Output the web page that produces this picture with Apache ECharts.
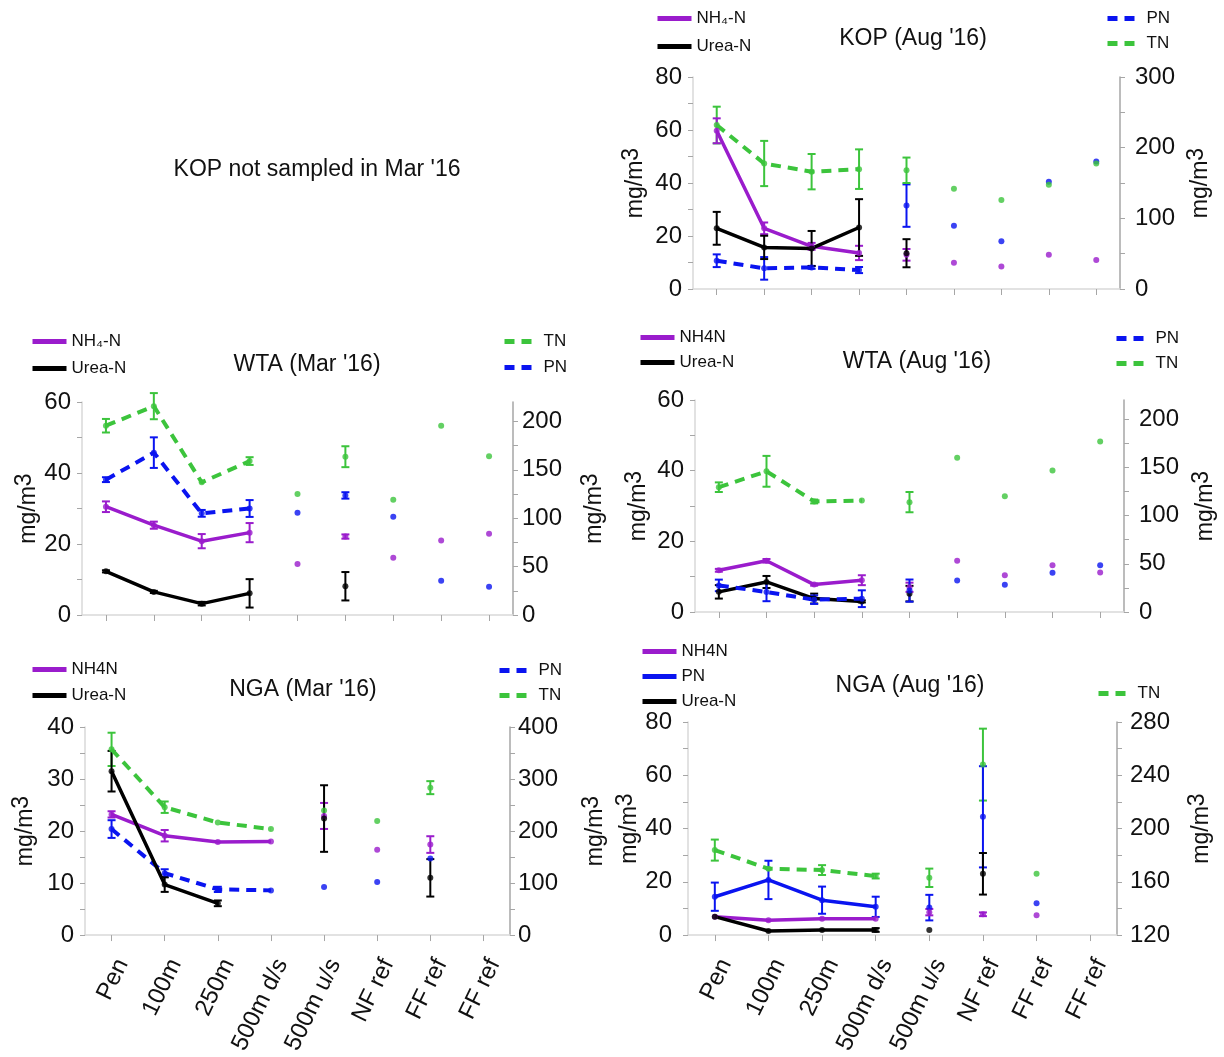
<!DOCTYPE html>
<html><head><meta charset="utf-8">
<script src="https://cdn.jsdelivr.net/npm/echarts@6/dist/echarts.min.js"></script>
<style>html,body{margin:0;padding:0;background:#fff}#c{width:1224px;height:1057px}</style>
</head><body><div id="c"></div>
<script>
const N = null;
const sites9 = ['Pen','100m','250m','500m d/s','500m u/s','NF ref','FF ref','FF ref','FF ref'];
const sites8 = ['Pen','100m','250m','500m d/s','500m u/s','NF ref','FF ref','FF ref'];

// KOP (Aug '16)
const kopNH4 = [59.7,22.9,16.1,13.6,12.9,9.9,8.5,12.9,10.9];
const kopNH4Err = [4.7,2.2,1.3,2.7,2.2,N,N,N,N];
const kopUrea = [22.9,15.7,15.3,23.2,13.5,N,N,N,N];
const kopUreaErr = [6.2,4.4,6.6,10.7,5.3,N,N,N,N];
const kopPN = [40,29.2,30.6,26.8,118,89.5,67.4,151.7,180.4];
const kopPNErr = [9,16,2,4.3,30,N,N,N,N];
const kopTN = [232,177.6,166,169.6,168,142,125.8,147.4,177.6];
const kopTNErr = [26,32,25,28,18,N,N,N,N];

// WTA (Mar '16)
const wtaMarNH4 = [30.5,25.3,20.8,23.2,14.4,22.1,16.1,21,22.9];
const wtaMarNH4Err = [1.5,1,2,2.7,N,0.6,N,N,N];
const wtaMarUrea = [12.3,6.5,3.2,6.1,N,8.1,N,N,N];
const wtaMarUreaErr = [0.3,0.3,0.5,4,N,4,N,N,N];
const wtaMarTN = [195.5,215.7,137,159,125,163.5,119,195.5,164];
const wtaMarTNErr = [7,13.5,N,4,N,10.8,N,N,N];
const wtaMarPN = [139.8,167.7,105,110,105.7,123.5,101.6,35.5,29.2];
const wtaMarPNErr = [2.5,15.8,3.5,8.7,N,3.3,N,N,N];

// WTA (Aug '16)
const wtaAugNH4 = [11.8,14.5,7.75,9,7.0,14.5,10.4,13.2,11.2];
const wtaAugNH4Err = [0.4,0.5,0.3,1.4,1.3,N,N,N,N];
const wtaAugUrea = [5.7,8.5,3.8,3.0,5.2,N,N,N,N];
const wtaAugUreaErr = [1.9,1.7,1.4,0.3,2.2,N,N,N,N];
const wtaAugPN = [27.6,20.7,12.8,13.8,22.2,32.8,28.3,40.8,48.4];
const wtaAugPNErr = [6,9.5,4.4,8.7,11.5,N,N,N,N];
const wtaAugTN = [129.5,146,114.7,115.7,114,160,120.2,146.8,176.9];
const wtaAugTNErr = [5,16,2,N,10.5,N,N,N,N];

// NGA (Mar '16)
const ngaMarNH4 = [23.2,19.1,17.9,18.0,22.9,16.4,17.4,N];
const ngaMarNH4Err = [0.6,1.1,N,N,2.5,N,1.6,N];
const ngaMarUrea = [31.5,9.7,6.1,N,22.4,N,11,N];
const ngaMarUreaErr = [3.9,1.4,0.55,N,6.4,N,3.6,N];
const ngaMarPN = [203.8,119,87.8,85.9,92.2,102.2,147.3,N];
const ngaMarPNErr = [17,7.5,5,N,N,N,N,N];
const ngaMarTN = [357,245.8,216.3,203.8,239.5,219.4,283.4,N];
const ngaMarTNErr = [32,11,N,N,N,N,12.5,N];

// NGA (Aug '16)
const ngaAugNH4 = [6.9,5.6,6.1,6.1,8.6,7.8,7.4,N];
const ngaAugNH4Err = [N,N,N,N,1.2,0.7,N,N];
const ngaAugPN = [14.4,20.7,13.1,10.6,10.3,44.4,11.9,N];
const ngaAugPNErr = [5.3,7.2,5.1,3.8,4.8,19,N,N];
const ngaAugUrea = [6.9,1.5,1.9,1.9,1.9,23,N,N];
const ngaAugUreaErr = [N,N,N,0.7,N,7.8,N,N];
const ngaAugTN = [183.8,169.8,168.8,164.3,163,248,166,N];
const ngaAugTNErr = [7.9,N,3.7,1.8,6.9,27,N,N];

const PURPLE = '#9a1ccc', BLACK = '#000000', BLUE = '#0a14f0', GREEN = '#3cc43c';
const FONT = 'Arial, "Liberation Sans", sans-serif';
const LABELS = {};
const series = [];

function addVar(p, yIdx, key, label, vals, errs, color, dashed, lineCount) {
  LABELS[key] = label;
  const xAxisIndex = p, yAxisIndex = 2 * p + yIdx;
  const errData = [];
  vals.forEach((v, i) => { if (v != null && errs[i] != null) errData.push([i, v - errs[i], v + errs[i]]); });
  series.push({
    type: 'custom', xAxisIndex, yAxisIndex, silent: true, z: 3, clip: false,
    data: errData,
    renderItem: function (params, api) {
      const x = api.value(0);
      const a = api.coord([x, api.value(2)]);
      const b = api.coord([x, api.value(1)]);
      const w = 4;
      const st = { stroke: color, lineWidth: 2 };
      return { type: 'group', children: [
        { type: 'line', shape: { x1: a[0], y1: a[1], x2: b[0], y2: b[1] }, style: st },
        { type: 'line', shape: { x1: a[0] - w, y1: a[1], x2: a[0] + w, y2: a[1] }, style: st },
        { type: 'line', shape: { x1: b[0] - w, y1: b[1], x2: b[0] + w, y2: b[1] }, style: st }
      ] };
    }
  });
  series.push({
    type: 'line', name: key, xAxisIndex, yAxisIndex, z: 4,
    data: vals.map((v, i) => (i < lineCount && v != null) ? v : '-'),
    symbol: 'none', silent: true,
    lineStyle: { color, width: dashed ? 4 : 3.5, type: dashed ? [10, 7] : 'solid' },
    itemStyle: { color }
  });
  const pts = [];
  vals.forEach((v, i) => { if (v != null) pts.push([i, v]); });
  series.push({
    type: 'scatter', xAxisIndex, yAxisIndex, z: 5, silent: true,
    data: pts, symbol: 'circle', symbolSize: 6, itemStyle: { color }
  });
}

const grids = [
  { left: 693, top: 77, width: 427, height: 212 },
  { left: 82, top: 402, width: 431, height: 213 },
  { left: 695, top: 400, width: 429, height: 212 },
  { left: 85, top: 727, width: 425, height: 213 },
  { left: 688, top: 722, width: 429, height: 214 }
];

function range(a, b, s) { const r = []; for (let v = a; v <= b + 1e-9; v += s) r.push(v); return r; }

const yAxes = [];
function addY(p, left, min, max, lab, tick, gap, margin) {
  yAxes.push({
    type: 'value', gridIndex: p, position: left ? 'left' : 'right', min, max,
    axisLine: { show: true, lineStyle: { color: left ? '#d9d9d9' : '#a6a6a6', width: 1.5 } },
    axisTick: { show: true, inside: false, length: 5, customValues: tick, lineStyle: { color: '#a6a6a6' } },
    axisLabel: { customValues: lab, fontSize: 24, color: '#111', fontFamily: FONT, margin: margin },
    splitLine: { show: false },
    name: 'mg/m{s|3}', nameLocation: 'middle', nameRotate: 90, nameGap: gap,
    nameTextStyle: { fontSize: 23, color: '#111', fontFamily: FONT,
      rich: { s: { fontSize: 23, color: '#111', fontFamily: FONT, padding: [0, 0, 8, 0] } } }
  });
}
addY(0, true, 0, 80, range(0, 80, 20), range(0, 80, 10), 42, 11);
addY(0, false, 0, 300, range(0, 300, 100), range(0, 300, 50), 65, 15);
addY(1, true, 0, 60, range(0, 60, 20), range(0, 60, 10), 37, 11);
addY(1, false, 0, 220, range(0, 200, 50), range(0, 200, 25), 66, 9);
addY(2, true, 0, 60, range(0, 60, 20), range(0, 60, 10), 41, 11);
addY(2, false, 0, 220, range(0, 200, 50), range(0, 200, 25), 66, 15);
addY(3, true, 0, 40, range(0, 40, 10), range(0, 40, 5), 44, 11);
addY(3, false, 0, 400, range(0, 400, 100), range(0, 400, 50), 70, 8);
addY(4, true, 0, 80, range(0, 80, 20), range(0, 80, 10), 42, 16);
addY(4, false, 120, 280, range(120, 280, 40), range(120, 280, 20), 69, 13);

const xAxes = [sites9, sites9, sites9, sites8, sites8].map((cats, p) => ({
  type: 'category', gridIndex: p, data: cats, boundaryGap: true,
  axisLine: { show: true, lineStyle: { color: '#d9d9d9', width: 1.5 } },
  axisTick: { show: true, alignWithLabel: true, length: 6, lineStyle: { color: '#a6a6a6' } },
  axisLabel: { show: p >= 3, interval: 0, rotate: 64, fontSize: 24, color: '#111', fontFamily: FONT,
    margin: 20, verticalAlign: 'top' }
}));

addVar(0, 1, 'kPN', 'PN', kopPN, kopPNErr, BLUE, true, 4);
addVar(0, 1, 'kTN', 'TN', kopTN, kopTNErr, GREEN, true, 4);
addVar(0, 0, 'kNH4', 'NH\u2084-N', kopNH4, kopNH4Err, PURPLE, false, 4);
addVar(0, 0, 'kUrea', 'Urea-N', kopUrea, kopUreaErr, BLACK, false, 4);
addVar(1, 1, 'wmTN', 'TN', wtaMarTN, wtaMarTNErr, GREEN, true, 4);
addVar(1, 1, 'wmPN', 'PN', wtaMarPN, wtaMarPNErr, BLUE, true, 4);
addVar(1, 0, 'wmNH4', 'NH\u2084-N', wtaMarNH4, wtaMarNH4Err, PURPLE, false, 4);
addVar(1, 0, 'wmUrea', 'Urea-N', wtaMarUrea, wtaMarUreaErr, BLACK, false, 4);
addVar(2, 1, 'waTN', 'TN', wtaAugTN, wtaAugTNErr, GREEN, true, 4);
addVar(2, 0, 'waNH4', 'NH4N', wtaAugNH4, wtaAugNH4Err, PURPLE, false, 4);
addVar(2, 0, 'waUrea', 'Urea-N', wtaAugUrea, wtaAugUreaErr, BLACK, false, 4);
addVar(2, 1, 'waPN', 'PN', wtaAugPN, wtaAugPNErr, BLUE, true, 4);
addVar(3, 1, 'nmTN', 'TN', ngaMarTN, ngaMarTNErr, GREEN, true, 4);
addVar(3, 1, 'nmPN', 'PN', ngaMarPN, ngaMarPNErr, BLUE, true, 4);
addVar(3, 0, 'nmNH4', 'NH4N', ngaMarNH4, ngaMarNH4Err, PURPLE, false, 4);
addVar(3, 0, 'nmUrea', 'Urea-N', ngaMarUrea, ngaMarUreaErr, BLACK, false, 4);
addVar(4, 1, 'naTN', 'TN', ngaAugTN, ngaAugTNErr, GREEN, true, 4);
addVar(4, 0, 'naPN', 'PN', ngaAugPN, ngaAugPNErr, BLUE, false, 4);
addVar(4, 0, 'naNH4', 'NH4N', ngaAugNH4, ngaAugNH4Err, PURPLE, false, 4);
addVar(4, 0, 'naUrea', 'Urea-N', ngaAugUrea, ngaAugUreaErr, BLACK, false, 4);

function legend(left, top, names, gap) {
  return {
    left, top, padding: 0, orient: 'vertical', itemWidth: 34, itemHeight: 14, itemGap: gap,
    data: names, selectedMode: false,
    formatter: n => LABELS[n],
    itemStyle: { opacity: 0 },
    lineStyle: { width: 5 },
    textStyle: { fontSize: 17, color: '#111', fontFamily: FONT }
  };
}
const legends = [
  legend(655, 10, ['kNH4', 'kUrea'], 11),
  legend(1105, 10, ['kPN', 'kTN'], 8),
  legend(30, 333, ['wmNH4', 'wmUrea'], 10),
  legend(502, 333, ['wmTN', 'wmPN'], 9),
  legend(638, 329, ['waNH4', 'waUrea'], 8),
  legend(1114, 330, ['waPN', 'waTN'], 8),
  legend(30, 661, ['nmNH4', 'nmUrea'], 9),
  legend(497, 662, ['nmPN', 'nmTN'], 8),
  legend(640, 643, ['naNH4', 'naPN', 'naUrea'], 8),
  legend(1096, 685, ['naTN'], 8)
];

function title(text, x, y, size) {
  return { text, left: x, top: y, textAlign: 'center', padding: 0,
    textStyle: { fontSize: size || 23, fontWeight: 'normal', color: '#111', fontFamily: FONT } };
}
const titles = [
  title("KOP (Aug '16)", 913, 27),
  title("WTA (Mar '16)", 307, 353),
  title("WTA (Aug '16)", 917, 350),
  title("NGA (Mar '16)", 303, 678),
  title("NGA (Aug '16)", 910, 674),
  title("KOP not sampled in Mar '16", 317, 158)
];

const chart = echarts.init(document.getElementById('c'));
chart.setOption({
  animation: false,
  backgroundColor: '#fff',
  title: titles,
  legend: legends,
  grid: grids,
  xAxis: xAxes,
  yAxis: yAxes,
  series
});
</script></body></html>
